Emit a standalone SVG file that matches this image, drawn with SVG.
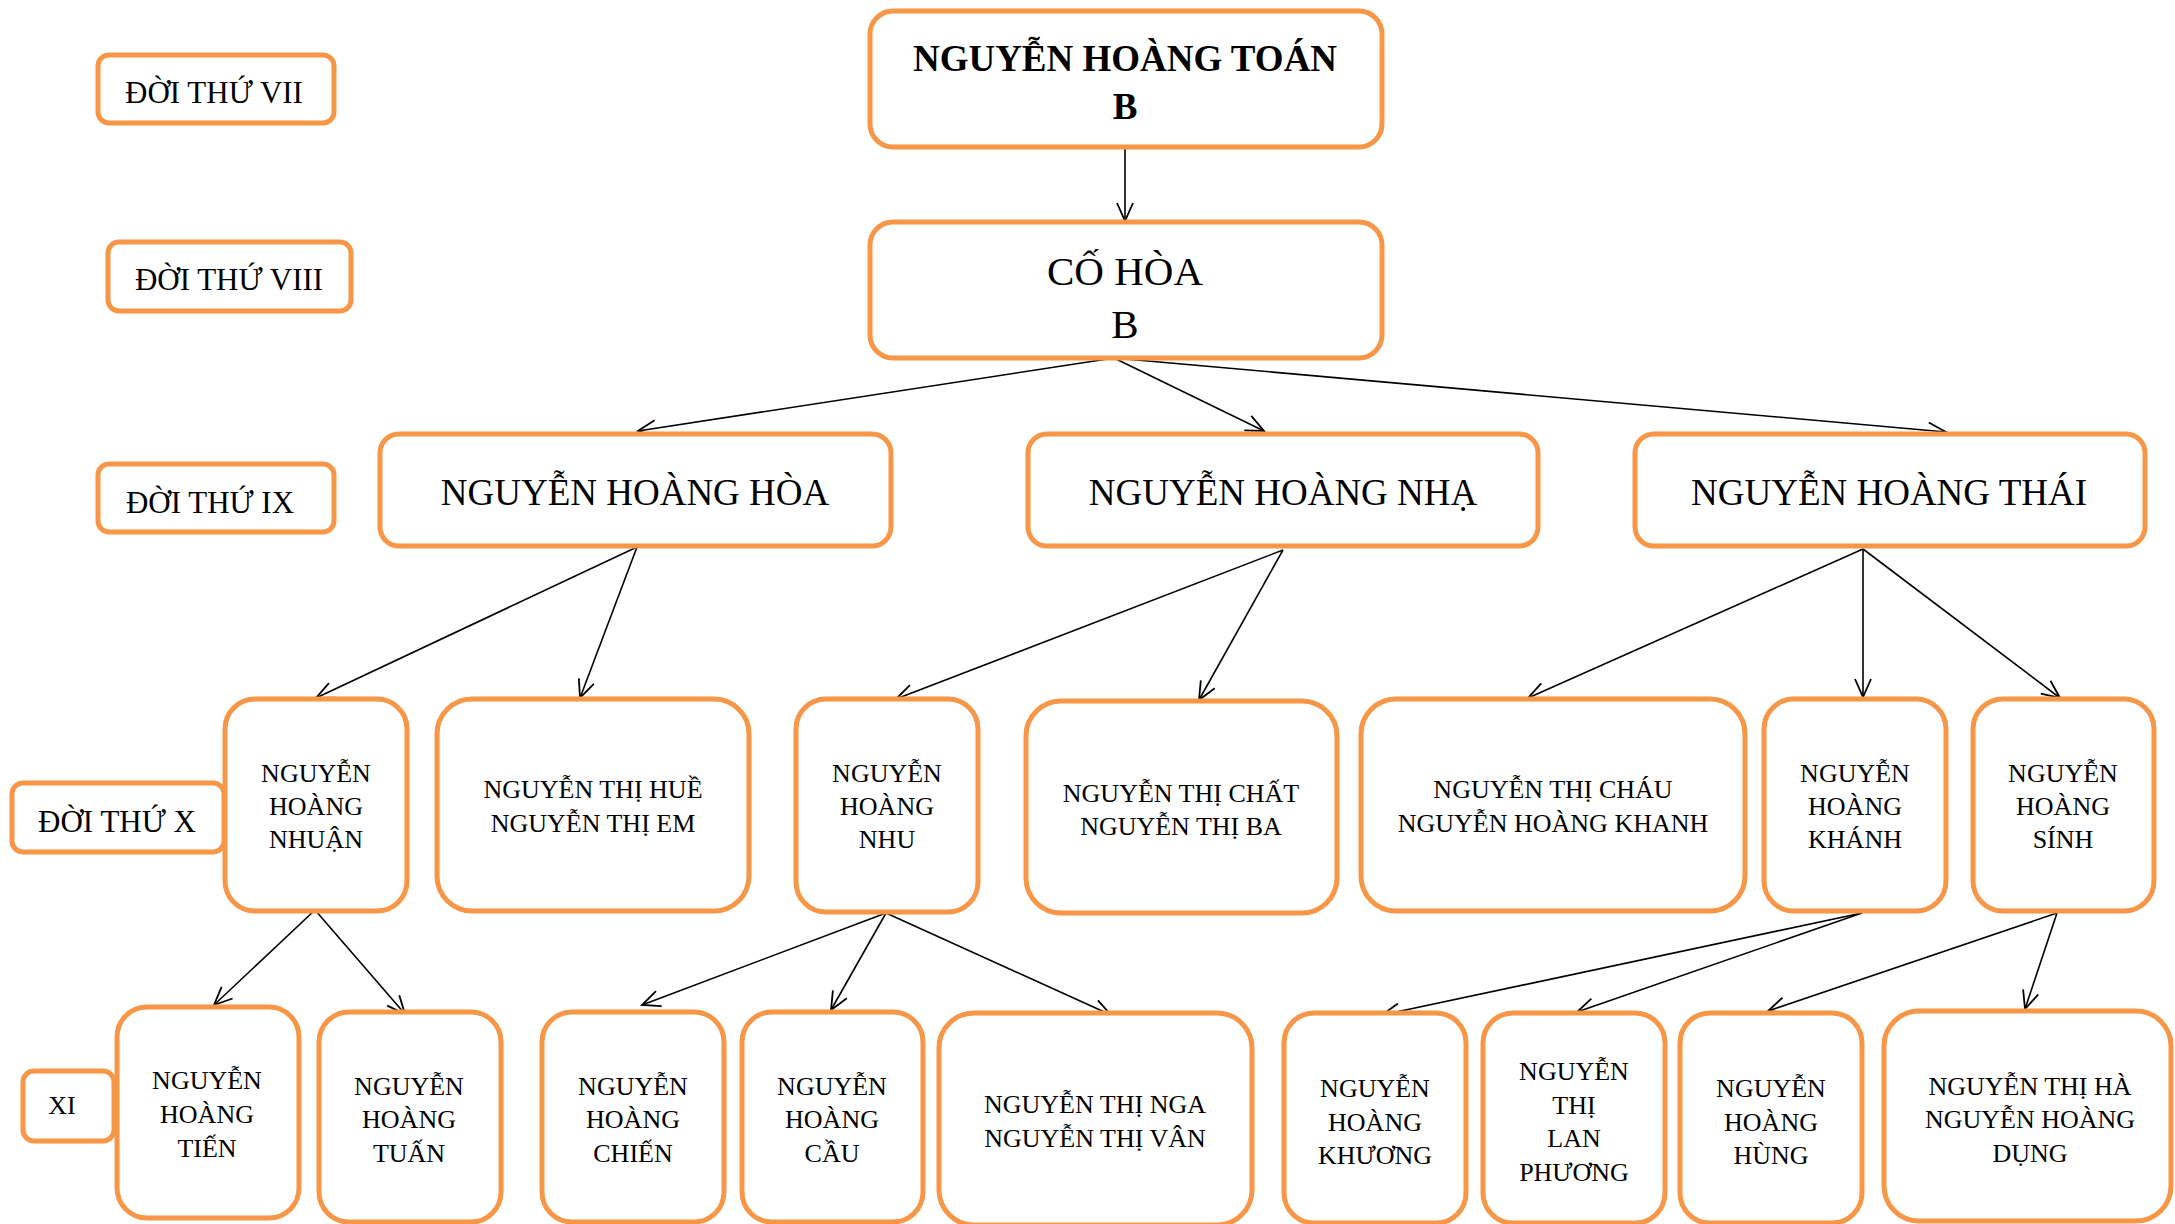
<svg xmlns="http://www.w3.org/2000/svg" width="2175" height="1224" viewBox="0 0 2175 1224">
<style>
.box{fill:#FFFFFF;stroke:#F79646;stroke-width:5}
text{font-family:"Liberation Serif","Times New Roman",serif;fill:#000000;text-anchor:middle}
.t36b{font-size:37px;font-weight:bold}
.t41{font-size:41px}
.t37{font-size:37px}
.t31{font-size:31px}
.t26{font-size:26px}
.conn line{stroke:#000000;stroke-width:1.6;fill:none;marker-end:url(#arr)}
</style>
<defs>
<marker id="arr" markerUnits="userSpaceOnUse" viewBox="-22 -12 26 24" refX="0" refY="0" markerWidth="26" markerHeight="24" orient="auto">
<path d="M-18,-8 L0,0 L-18,8" fill="none" stroke="#000000" stroke-width="1.8"/>
</marker>
</defs>
<rect width="2175" height="1224" fill="#FFFFFF"/>

<g class="conn" id="connectors">
<line x1="1125" y1="148" x2="1125" y2="221"/>
<line x1="1114" y1="358" x2="638" y2="431"/>
<line x1="1114" y1="358" x2="1264" y2="431"/>
<line x1="1114" y1="358" x2="1946" y2="432"/>
<line x1="637" y1="547" x2="316" y2="698"/>
<line x1="637" y1="547" x2="580" y2="698"/>
<line x1="1283" y1="550" x2="896" y2="699"/>
<line x1="1283" y1="550" x2="1199" y2="700"/>
<line x1="1863" y1="549" x2="1528" y2="698"/>
<line x1="1863" y1="549" x2="1863" y2="697"/>
<line x1="1863" y1="549" x2="2060" y2="698"/>
<line x1="315" y1="910" x2="214" y2="1005"/>
<line x1="315" y1="910" x2="405" y2="1014"/>
<line x1="886" y1="913" x2="642" y2="1005"/>
<line x1="886" y1="913" x2="831" y2="1010"/>
<line x1="886" y1="913" x2="1111" y2="1015"/>
<line x1="1862" y1="913" x2="1382" y2="1015"/>
<line x1="1862" y1="913" x2="1577" y2="1012"/>
<line x1="2057" y1="913" x2="1768" y2="1011"/>
<line x1="2057" y1="913" x2="2025" y2="1009"/>
</g>

<g id="lbl7"><rect class="box" x="98" y="55" width="236" height="68" rx="11"/><text class="t31" x="214" y="103">ĐỜI THỨ VII</text></g>
<g id="lbl8"><rect class="box" x="108" y="242" width="243" height="69" rx="11"/><text class="t31" x="229" y="290">ĐỜI THỨ VIII</text></g>
<g id="lbl9"><rect class="box" x="98" y="464" width="236" height="68" rx="11"/><text class="t31" x="210" y="513">ĐỜI THỨ IX</text></g>
<g id="lbl10"><rect class="box" x="12" y="783" width="212" height="69" rx="11"/><text class="t31" x="117" y="832">ĐỜI THỨ X</text></g>
<g id="lbl11"><rect class="box" x="23" y="1071" width="91" height="70" rx="11"/><text class="t26" x="62" y="1114">XI</text></g>

<g id="toan"><rect class="box" x="870" y="11" width="512" height="136" rx="23"/><text class="t36b" x="1125" y="71">NGUYỄN HOÀNG TOÁN</text><text class="t36b" x="1125" y="119">B</text></g>
<g id="cohoa"><rect class="box" x="870" y="222" width="512" height="136" rx="23"/><text class="t41" x="1125" y="285">CỐ HÒA</text><text class="t41" x="1125" y="338">B</text></g>

<g id="hoa"><rect class="box" x="380" y="434" width="511" height="112" rx="19"/><text class="t37" x="635" y="505">NGUYỄN HOÀNG HÒA</text></g>
<g id="nha"><rect class="box" x="1028" y="434" width="510" height="112" rx="19"/><text class="t37" x="1283" y="505">NGUYỄN HOÀNG NHẠ</text></g>
<g id="thai"><rect class="box" x="1635" y="434" width="510" height="112" rx="19"/><text class="t37" x="1889" y="505">NGUYỄN HOÀNG THÁI</text></g>

<g id="nhuan"><rect class="box" x="225" y="699" width="182" height="212" rx="30"/><text class="t26" x="316" y="782">NGUYỄN</text><text class="t26" x="316" y="815">HOÀNG</text><text class="t26" x="316" y="848">NHUẬN</text></g>
<g id="hue"><rect class="box" x="437" y="699" width="312" height="212" rx="35"/><text class="t26" x="593" y="798">NGUYỄN THỊ HUỀ</text><text class="t26" x="593" y="832">NGUYỄN THỊ EM</text></g>
<g id="nhu"><rect class="box" x="796" y="699" width="182" height="213" rx="30"/><text class="t26" x="887" y="782">NGUYỄN</text><text class="t26" x="887" y="815">HOÀNG</text><text class="t26" x="887" y="848">NHU</text></g>
<g id="chat"><rect class="box" x="1026" y="701" width="311" height="212" rx="35"/><text class="t26" x="1181" y="802">NGUYỄN THỊ CHẤT</text><text class="t26" x="1181" y="835">NGUYỄN THỊ BA</text></g>
<g id="chau"><rect class="box" x="1361" y="699" width="384" height="212" rx="35"/><text class="t26" x="1553" y="798">NGUYỄN THỊ CHÁU</text><text class="t26" x="1553" y="832">NGUYỄN HOÀNG KHANH</text></g>
<g id="khanh"><rect class="box" x="1764" y="699" width="182" height="212" rx="30"/><text class="t26" x="1855" y="782">NGUYỄN</text><text class="t26" x="1855" y="815">HOÀNG</text><text class="t26" x="1855" y="848">KHÁNH</text></g>
<g id="sinh"><rect class="box" x="1973" y="699" width="181" height="212" rx="30"/><text class="t26" x="2063" y="782">NGUYỄN</text><text class="t26" x="2063" y="815">HOÀNG</text><text class="t26" x="2063" y="848">SÍNH</text></g>

<g id="tien"><rect class="box" x="117" y="1007" width="182" height="211" rx="30"/><text class="t26" x="207" y="1089">NGUYỄN</text><text class="t26" x="207" y="1123">HOÀNG</text><text class="t26" x="207" y="1157">TIẾN</text></g>
<g id="tuan"><rect class="box" x="319" y="1012" width="182" height="210" rx="30"/><text class="t26" x="409" y="1095">NGUYỄN</text><text class="t26" x="409" y="1128">HOÀNG</text><text class="t26" x="409" y="1162">TUẤN</text></g>
<g id="chien"><rect class="box" x="542" y="1012" width="182" height="210" rx="30"/><text class="t26" x="633" y="1095">NGUYỄN</text><text class="t26" x="633" y="1128">HOÀNG</text><text class="t26" x="633" y="1162">CHIẾN</text></g>
<g id="cau"><rect class="box" x="742" y="1012" width="181" height="210" rx="30"/><text class="t26" x="832" y="1095">NGUYỄN</text><text class="t26" x="832" y="1128">HOÀNG</text><text class="t26" x="832" y="1162">CẦU</text></g>
<g id="nga"><rect class="box" x="939" y="1013" width="313" height="212" rx="35"/><text class="t26" x="1095" y="1113">NGUYỄN THỊ NGA</text><text class="t26" x="1095" y="1147">NGUYỄN THỊ VÂN</text></g>
<g id="khuong"><rect class="box" x="1284" y="1013" width="182" height="210" rx="30"/><text class="t26" x="1375" y="1097">NGUYỄN</text><text class="t26" x="1375" y="1131">HOÀNG</text><text class="t26" x="1375" y="1164">KHƯƠNG</text></g>
<g id="lan"><rect class="box" x="1483" y="1013" width="182" height="210" rx="30"/><text class="t26" x="1574" y="1080">NGUYỄN</text><text class="t26" x="1574" y="1114">THỊ</text><text class="t26" x="1574" y="1147">LAN</text><text class="t26" x="1574" y="1181">PHƯƠNG</text></g>
<g id="hung"><rect class="box" x="1680" y="1013" width="182" height="210" rx="30"/><text class="t26" x="1771" y="1097">NGUYỄN</text><text class="t26" x="1771" y="1131">HOÀNG</text><text class="t26" x="1771" y="1164">HÙNG</text></g>
<g id="ha"><rect class="box" x="1884" y="1011" width="287" height="210" rx="35"/><text class="t26" x="2030" y="1095">NGUYỄN THỊ HÀ</text><text class="t26" x="2030" y="1128">NGUYỄN HOÀNG</text><text class="t26" x="2030" y="1162">DỤNG</text></g>
</svg>
